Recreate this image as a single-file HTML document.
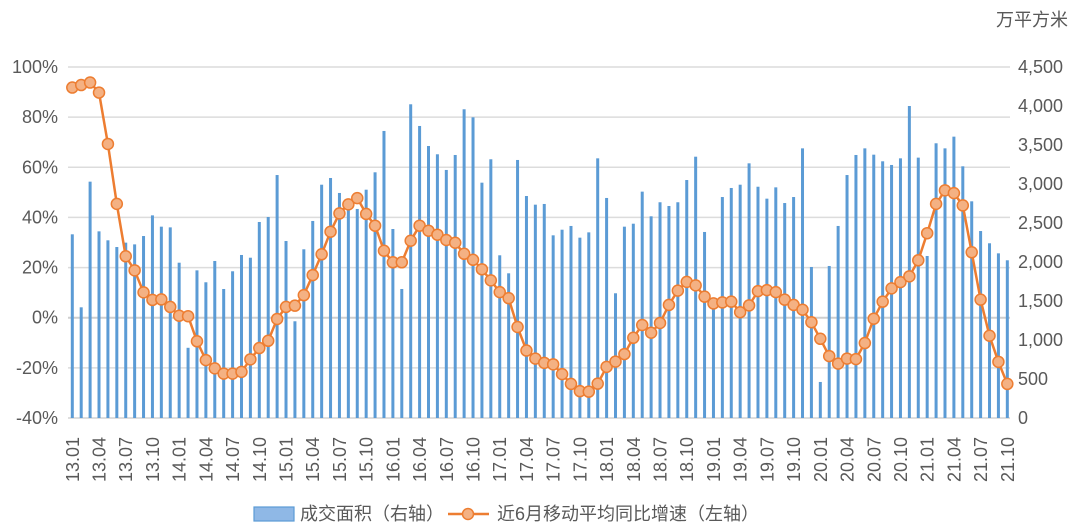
<!DOCTYPE html>
<html><head><meta charset="utf-8"><style>
html,body{margin:0;padding:0;background:#fff;}
svg{display:block;font-family:"Liberation Sans","Noto Sans CJK SC",sans-serif;}
</style></head><body>
<svg id="chart" width="1080" height="532" viewBox="0 0 1080 532">
<g id="grid"></g>
<g id="bars"></g>
<g id="line"></g>
<g id="laxis"></g>
<g id="raxis"></g>
<g id="xaxis"></g>
<text x="1068" y="26" text-anchor="end" font-size="18" fill="#595959">万平方米</text>
<g>
<g>
<rect x="254" y="507" width="40" height="14" fill="#8fb8e6" stroke="#5b9bd5" stroke-width="1.2"/>
<text x="300" y="520" font-size="18" fill="#595959">成交面积（右轴）</text>
</g>
<g>
<line x1="448" y1="514" x2="489" y2="514" stroke="#ed7d31" stroke-width="2.5"/>
<circle cx="468" cy="514" r="5.5" fill="#f4b183" stroke="#ed7d31" stroke-width="1.5"/>
<text x="497" y="520" font-size="18" fill="#595959">近6月移动平均同比增速（左轴）</text>
</g>
</g>
</svg>
<script>
const areaValues=[2355,1419,3030,2393,2278,2192,2248,2226,2333,2598,2453,2444,1991,900,1893,1740,2013,1654,1881,2090,2055,2513,2577,3115,2269,1240,2163,2526,2991,3077,2885,2756,2680,2927,3150,3680,2423,1654,4022,3744,3487,3381,3180,3372,3958,3855,3017,3317,2086,1855,3308,2846,2735,2744,2342,2414,2462,2312,2380,3329,2821,1599,2453,2491,2902,2586,2766,2718,2766,3051,3350,2385,1400,2833,2949,2991,3265,2965,2812,2957,2756,2833,3457,1936,462,1949,2462,3115,3372,3457,3376,3291,3244,3329,4000,3338,2077,3522,3457,3607,3227,2778,2397,2240,2111,2022];
const growthValues=[91.8,92.8,93.8,89.8,69.3,45.4,24.5,18.9,10.1,7.1,7.3,4.3,0.8,0.6,-9.4,-16.9,-20.2,-22.3,-22.3,-21.6,-16.6,-12.1,-9.2,-0.5,4.3,4.8,9.0,17.0,25.3,34.3,41.6,45.2,47.7,41.4,36.7,26.7,22.1,22.1,30.7,36.7,34.7,33.1,31.0,29.9,25.5,23.1,19.3,14.9,10.2,7.8,-3.7,-13.1,-16.3,-18.0,-18.6,-22.5,-26.4,-29.3,-29.5,-26.3,-19.6,-17.5,-14.5,-8.0,-2.9,-6.0,-2.1,5.1,10.8,14.3,12.9,8.4,5.7,6.1,6.4,2.2,4.9,10.6,11.0,10.2,7.2,5.1,3.2,-1.8,-8.4,-15.3,-18.3,-16.3,-16.5,-10.1,-0.4,6.4,11.7,14.2,16.5,22.9,33.7,45.4,50.8,49.7,44.8,26.1,7.2,-7.2,-17.6,-26.4];
const leftTicks=[-40,-20,0,20,40,60,80,100];
const rightTicks=[0,500,1000,1500,2000,2500,3000,3500,4000,4500];
const startYear=13, startMonth=1;
const NS="http://www.w3.org/2000/svg";
const X0=72.3, DX=8.905, YTOP=67, YBOT=418, PL=68, PR=1010;
const xs=i=>X0+i*DX;
const yl=v=>YBOT-(v+40)/140*(YBOT-YTOP);
const yr=v=>YBOT-v/4500*(YBOT-YTOP);
function mk(tag,attrs,parent){const e=document.createElementNS(NS,tag);for(const k in attrs)e.setAttribute(k,attrs[k]);parent.appendChild(e);return e;}
const grid=document.getElementById('grid'),bars=document.getElementById('bars'),line=document.getElementById('line');
const la=document.getElementById('laxis'),ra=document.getElementById('raxis'),xa=document.getElementById('xaxis');
leftTicks.forEach(t=>{
  const g=mk('line',{x1:PL,x2:PR,y1:yl(t),y2:yl(t),stroke:t===0?'#cfcfcf':'#dcdcdc','stroke-width':t===0?2:1.5},grid);
  
  
  const tx=mk('text',{x:58,y:yl(t)+6,'text-anchor':'end','font-size':18,fill:'#595959'},la);
  tx.textContent=t+'%';
  
  
});
rightTicks.forEach(t=>{
  const tx=mk('text',{x:1018,y:yr(t)+6,'font-size':18,fill:'#595959'},ra);
  tx.textContent=t.toLocaleString('en-US');
  
  
});
areaValues.forEach((v,i)=>{
  const r=mk('rect',{x:xs(i)-1.5,y:yr(v),width:3,height:YBOT-yr(v),fill:'#5b9bd5'},bars);
  
  
});
mk('line',{x1:PL,x2:PR,y1:YBOT,y2:YBOT,stroke:'#d9d9d9','stroke-width':1.5},grid);
const pts=growthValues.map((v,i)=>xs(i).toFixed(1)+','+yl(v).toFixed(1)).join(' ');
const pl=mk('polyline',{points:pts,fill:'none',stroke:'#ed7d31','stroke-width':2.5,'stroke-linejoin':'round'},line);


growthValues.forEach((v,i)=>{
  const c=mk('circle',{cx:xs(i),cy:yl(v),r:5.5,fill:'#f4b183',stroke:'#ed7d31','stroke-width':1.5},line);
  
  
});
for(let i=0;i<areaValues.length;i+=3){
  const y=startYear+Math.floor((startMonth-1+i)/12), m=(startMonth-1+i)%12+1;
  const lbl=y+'.'+(m<10?'0'+m:m);
  const x=xs(i)+6.5;
  const tx=mk('text',{x:x,y:482,'font-size':18,fill:'#595959',transform:'rotate(-90 '+x+' 482)'},xa);
  tx.textContent=lbl;
  
  
}
</script>
</body></html>
